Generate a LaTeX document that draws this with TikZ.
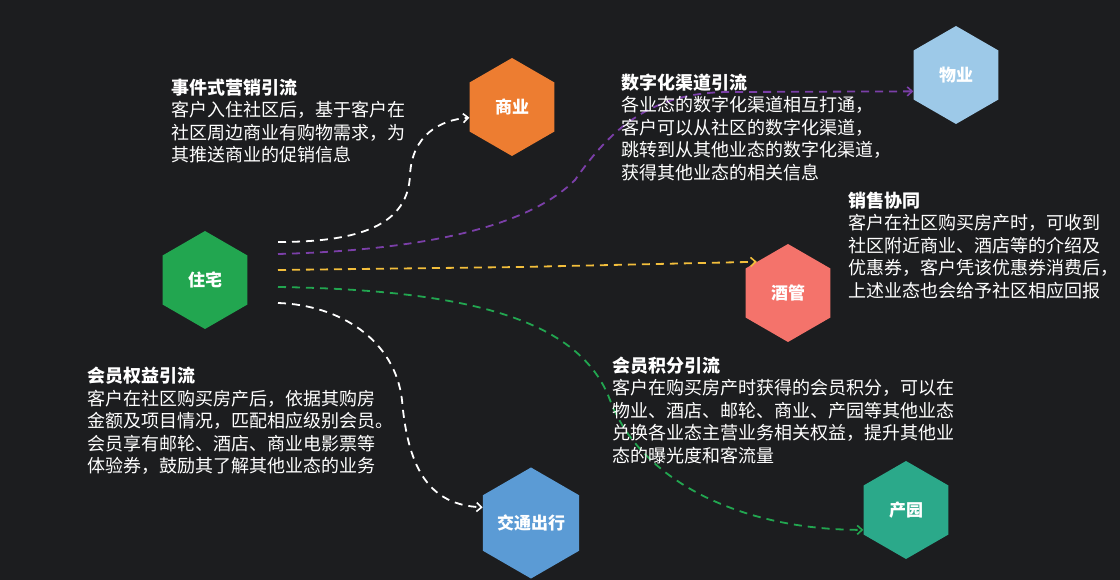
\documentclass[tikz,border=0pt]{standalone}
\usepackage{fontspec}
\newfontfamily\cjk{Noto Sans CJK SC}
\usetikzlibrary{shapes.geometric,arrows.meta}
\definecolor{bg}{HTML}{1C1D1F}
\definecolor{hgreen}{HTML}{22A650}
\definecolor{horange}{HTML}{ED7D31}
\definecolor{hlblue}{HTML}{9DC9E8}
\definecolor{hsalmon}{HTML}{F4736B}
\definecolor{hblue}{HTML}{5B9BD5}
\definecolor{hteal}{HTML}{2BA98A}
\definecolor{lpurple}{HTML}{7B3FA8}
\definecolor{lyellow}{HTML}{F2BE3C}
\definecolor{lgreen}{HTML}{22A650}
\tikzset{
  hexa/.style={regular polygon, regular polygon sides=6, shape border rotate=30,
    minimum size=98pt, inner sep=0pt, text=white, font=\cjk\bfseries\fontsize{17}{20}\selectfont},
  txt/.style={anchor=base west, inner sep=0pt, align=left, text=white,
    font=\cjk\fontsize{18}{22.5}\selectfont},
  link/.style={line width=1.8pt, dash pattern=on 8pt off 6pt,
    -{Straight Barb[length=5pt,width=9pt,line width=1.6pt]}},
}
\begin{document}
\begin{tikzpicture}[x=1pt,y=-1pt]
\useasboundingbox (0,0) rectangle (1120,580);
\fill[bg] (0,0) rectangle (1120,580);

% hexagons
\node[hexa, fill=hgreen]  (zhuzhai)  at (205,280) {住宅};
\node[hexa, fill=horange] (shangye)  at (512,107) {商业};
\node[hexa, fill=hlblue]  (wuye)     at (956,75)  {物业};
\node[hexa, fill=hsalmon] (jiuguan)  at (788,293) {酒管};
\node[hexa, fill=hblue]   (jiaotong) at (531,523) {交通出行};
\node[hexa, fill=hteal]   (chanyuan) at (906,510) {产园};

% start points
\coordinate (s1) at (278,242);
\coordinate (s2) at (278,254);
\coordinate (s3) at (278,270);
\coordinate (s4) at (278,287);
\coordinate (s5) at (278,303);

% connectors
\draw[link, white] (s1) .. controls (360,242) and (408,225) .. (410,175)
  .. controls (412,135) and (440,120) .. (shangye.194);
\draw[link, lpurple] (s2) .. controls (430,250) and (530,225) .. (575,180)
  .. controls (610,130) and (650,92) .. (730,92) -- (wuye.201);
\draw[link, lyellow] (s3) -- (520,267) -- (jiuguan.135);
\draw[link, lgreen] (s4) .. controls (470,290) and (580,320) .. (610,400)
  .. controls (640,480) and (740,530) .. (chanyuan.205);
\draw[link, white] (s5) .. controls (340,305) and (395,340) .. (402,400)
  .. controls (408,470) and (430,505) .. (jiaotong.162);

% text blocks (anchored at the baseline of their last line)
\node[txt] (t1) at (171,162) {{\bfseries 事件式营销引流}\\客户入住社区后，基于客户在\\社区周边商业有购物需求，为\\其推送商业的促销信息};
\node[txt] (t2) at (621,179.5) {{\bfseries 数字化渠道引流}\\各业态的数字化渠道相互打通，\\客户可以从社区的数字化渠道，\\跳转到从其他业态的数字化渠道，\\获得其他业态的相关信息};
\node[txt] (t3) at (848,297.5) {{\bfseries 销售协同}\\客户在社区购买房产时，可收到\\社区附近商业、酒店等的介绍及\\优惠券，客户凭该优惠券消费后，\\上述业态也会给予社区相应回报};
\node[txt] (t4) at (87,472.5) {{\bfseries 会员权益引流}\\客户在社区购买房产后，依据其购房\\金额及项目情况，匹配相应级别会员。\\会员享有邮轮、酒店、商业电影票等\\体验券，鼓励其了解其他业态的业务};
\node[txt] (t5) at (612,462) {{\bfseries 会员积分引流}\\客户在购买房产时获得的会员积分，可以在\\物业、酒店、邮轮、商业、产园等其他业态\\兑换各业态主营业务相关权益，提升其他业\\态的曝光度和客流量};
\end{tikzpicture}
\end{document}
